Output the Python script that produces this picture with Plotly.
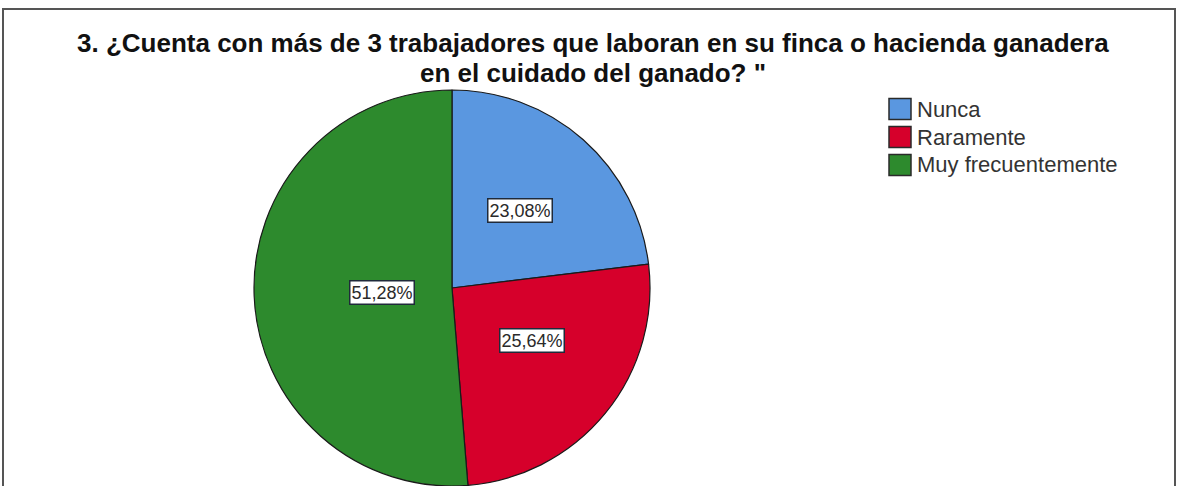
import math
import plotly.graph_objects as go

# Frequencies for question 3
categories = ["Nunca", "Raramente", "Muy frecuentemente"]
counts = [9, 10, 20]
colors = ["#5a97e0", "#d6002b", "#2d8a2d"]

title_lines = [
    "3. ¿Cuenta con más de 3 trabajadores que laboran en su finca o hacienda ganadera",
    "en el cuidado del ganado? \"",
]

W, H = 1178, 486
cx, cy, r = 452, 288, 198  # pie centre and radius in pixels (from top-left)
FONT = "Liberation Sans, Arial, sans-serif"


def px_x(x):
    return x / W


def px_y(y):
    return 1 - y / H


fig = go.Figure(go.Pie(
    labels=categories,
    values=counts,
    marker=dict(colors=colors, line=dict(color="#1a1a1a", width=1.2)),
    sort=False,
    direction="clockwise",
    rotation=0,
    textinfo="none",
    hoverinfo="label+percent",
    showlegend=False,
    domain=dict(x=[px_x(cx - r), px_x(cx + r)], y=[px_y(cy + r), px_y(cy - r)]),
))

annotations = []
shapes = []

# Percentage boxes placed along each slice's mid-angle
total = sum(counts)
start = 0.0
for c in counts:
    frac = c / total
    mid = (start + frac / 2) * 2 * math.pi
    lx = cx + 0.52 * r * math.sin(mid)
    ly = cy - 0.52 * r * math.cos(mid)
    label = f"{frac * 100:.2f}%".replace(".", ",")
    annotations.append(dict(
        x=px_x(lx), y=px_y(ly), xref="paper", yref="paper",
        text=label, showarrow=False,
        font=dict(family=FONT, size=18, color="#2a2a2a"),
        bgcolor="white", bordercolor="#1f2a3a", borderwidth=1.5, borderpad=1,
    ))
    start += frac

# Two-line title
for text, yc in zip(title_lines, [43, 73]):
    annotations.append(dict(
        x=0.503, y=px_y(yc), xref="paper", yref="paper", yanchor="middle",
        text=f"<b>{text}</b>", showarrow=False,
        font=dict(family=FONT, size=26, color="#111111"),
    ))

# Legend: coloured squares with category names
leg_x, leg_y0, leg_step, sq = 889, 109, 28, 22
for i, (name, col) in enumerate(zip(categories, colors)):
    yc = leg_y0 + i * leg_step
    shapes.append(dict(
        type="rect", xref="paper", yref="paper",
        x0=px_x(leg_x), x1=px_x(leg_x + sq),
        y0=px_y(yc + sq / 2 - 0.5), y1=px_y(yc - sq / 2 + 0.5),
        fillcolor=col, line=dict(color="#2a2a2a", width=1.5),
    ))
    annotations.append(dict(
        x=px_x(leg_x + sq + 4), y=px_y(yc), xref="paper", yref="paper",
        xanchor="left", yanchor="middle", text=name, showarrow=False,
        font=dict(family=FONT, size=22, color="#333333"),
    ))

# Outer frame
shapes.append(dict(
    type="rect", xref="paper", yref="paper",
    x0=px_x(3), x1=px_x(W - 3), y0=-0.05, y1=px_y(9),
    line=dict(color="#555555", width=2), fillcolor="rgba(0,0,0,0)",
))

fig.update_layout(
    width=W, height=H,
    margin=dict(l=0, r=0, t=0, b=0),
    paper_bgcolor="white",
    separators=",.",
    annotations=annotations,
    shapes=shapes,
    showlegend=False,
)

fig.write_html("out.html")
